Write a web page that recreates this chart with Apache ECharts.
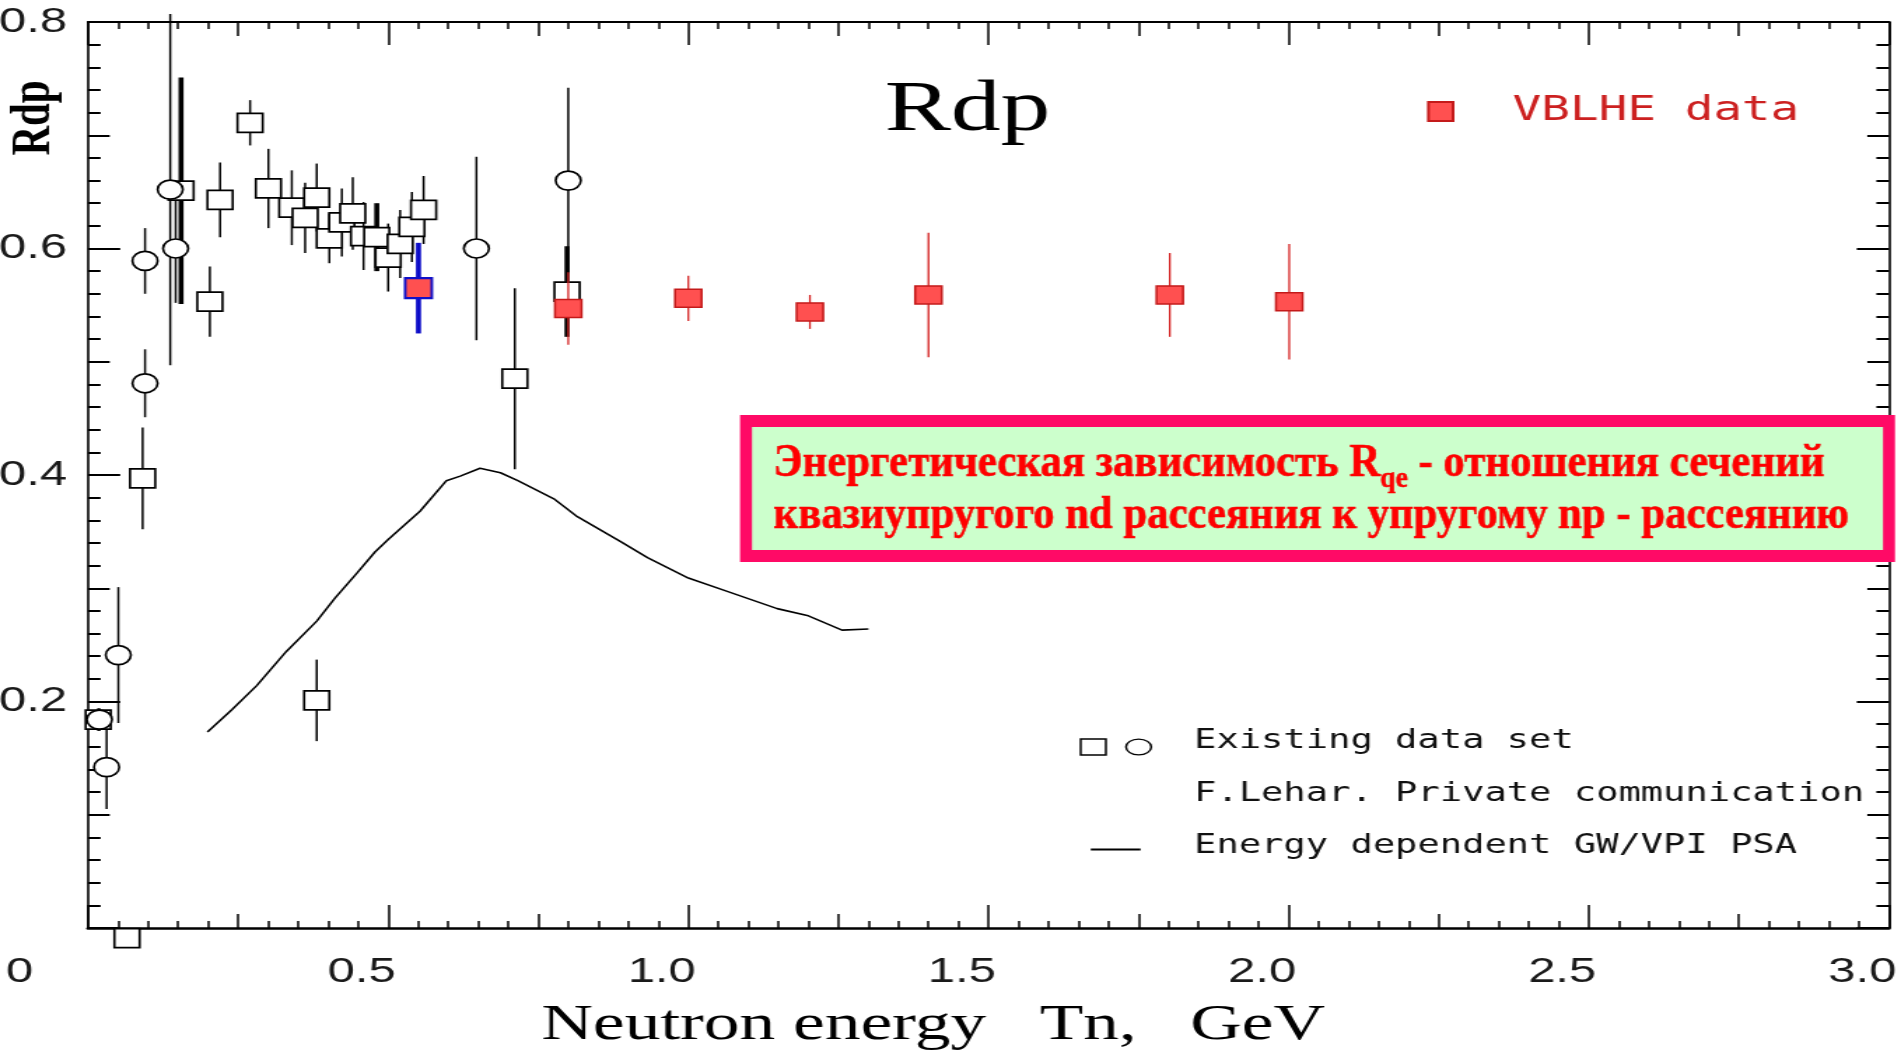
<!DOCTYPE html>
<html><head><meta charset="utf-8">
<script src="https://cdn.jsdelivr.net/npm/echarts@6/dist/echarts.min.js"></script>
<style>
html,body{margin:0;padding:0;background:#fff;overflow:hidden;width:1901px;height:1050px;}
#wrap{position:absolute;left:0;top:0;width:1358px;height:1050px;transform:scaleX(1.399853);transform-origin:0 0;}
</style></head><body><div id="wrap"></div>
<script>
// ---------- data ----------
const squareX   = [0.017, 0.091, 0.065, 0.155, 0.203, 0.220, 0.270, 0.3005, 0.3395, 0.3617, 0.381, 0.402, 0.4228, 0.441, 0.459, 0.481, 0.500, 0.520, 0.5395, 0.559, 0.381, 0.711, 0.798];
const squareY   = [0.184, 0.397, -0.009, 0.651, 0.553, 0.643, 0.711, 0.653, 0.636, 0.627, 0.645, 0.609, 0.623, 0.631, 0.611, 0.610, 0.592, 0.604, 0.619, 0.634, 0.201, 0.485, 0.562];
const squareErr = [0.010, 0.045, 0, 0.100, 0.031, 0.033, 0.020, 0.035, 0.033, 0.031, 0.030, 0.022, 0.030, 0.032, 0.030, 0.030, 0.030, 0.030, 0.031, 0.030, 0.036, 0.080, 0.040];

const circleX   = [0.019, 0.031, 0.0505, 0.095, 0.095, 0.137, 0.146, 0.647, 0.800];
const circleY   = [0.184, 0.142, 0.241, 0.589, 0.481, 0.652, 0.600, 0.600, 0.660];
const circleErr = [0.010, 0.037, 0.060, 0.029, 0.030, 0.155, 0.048, 0.081, 0.082];

const vblheX   = [0.800, 1.000, 1.2025, 1.400, 1.802, 2.001];
const vblheY   = [0.547, 0.556, 0.544, 0.559, 0.559, 0.553];
const vblheErr = [0.032, 0.020, 0.015, 0.055, 0.037, 0.051];

const blueX   = [0.5505];
const blueY   = [0.565];
const blueErr = [0.040];

const psaX = [0.199, 0.240, 0.281, 0.330, 0.381, 0.411, 0.449, 0.478, 0.500, 0.553, 0.597, 0.620, 0.653, 0.687, 0.716, 0.776, 0.813, 0.888, 0.932, 1.000, 1.066, 1.148, 1.198, 1.256, 1.300];
const psaY = [0.173, 0.193, 0.214, 0.244, 0.271, 0.291, 0.314, 0.332, 0.343, 0.368, 0.395, 0.399, 0.406, 0.402, 0.395, 0.379, 0.364, 0.341, 0.327, 0.309, 0.297, 0.282, 0.276, 0.263, 0.264];

const xTicks = [0, 0.5, 1.0, 1.5, 2.0, 2.5, 3.0];
const yTicks = [0.2, 0.4, 0.6, 0.8];

const titleText = 'Rdp';
const yName = 'Rdp';
const xName = 'Neutron energy   Tn,   GeV';
const legendTexts = ['Existing data set', 'F.Lehar. Private communication', 'Energy dependent GW/VPI PSA'];
const box1a = 'Энергетическая зависимость R', box1b = 'qe', box1c = ' - отношения сечений';
const box2 = 'квазиупругого nd рассеяния к упругому np - рассеянию';

// ---------- styles / layout ----------
const S = 1901 / 1358;              // horizontal stretch of the original picture
const THICK_SQUARE_BARS = [3, 15, 22];
const monoFont = '"DejaVu Sans Mono"';
const tickFont = '"Liberation Sans"';
const serif = '"Liberation Serif"';

const ctx = document.createElement('canvas').getContext('2d');
function tw(t, f) { ctx.font = f; return ctx.measureText(t).width; }
const mainFont = 'bold 47px ' + serif, subFont = 'bold 30px ' + serif;
const wa = tw(box1a, mainFont), wb = tw(box1b, subFont), wc = tw(box1c, mainFont), w2 = tw(box2, mainFont);
const s1 = (1051 / S) / (wa + wb + wc), s2 = (1075.5 / S) / w2;
const boxShadow = { textShadowColor: '#1a0000', textShadowOffsetX: 1.6, textShadowOffsetY: 2, textShadowBlur: 0, stroke: '#ee0000', lineWidth: 0.6 };

function errBars(xs, ys, es, color, width, thick, thickWidth, z) {
  return {
    type: 'custom', xAxisIndex: 0, yAxisIndex: 0, z: z, silent: true, clip: false,
    data: xs.map((x, i) => [x, ys[i], es[i], i]),
    encode: { x: 0, y: 1 },
    renderItem: function (params, api) {
      const x = api.value(0), y = api.value(1), e = api.value(2), i = api.value(3);
      if (!e) return null;
      const lo = api.coord([x, y - e]), hi = api.coord([x, y + e]);
      return { type: 'line', shape: { x1: lo[0], y1: lo[1], x2: hi[0], y2: hi[1] },
        style: { stroke: color, lineWidth: thick.indexOf(i) >= 0 ? thickWidth : width } };
    }
  };
}

function xAxisDef(pos, interval, tickLen, main) {
  return {
    type: 'value', min: 0, max: 3, interval: interval, position: pos, gridIndex: 0,
    axisLine: { show: main, onZero: false, lineStyle: { color: '#000', width: pos === 'bottom' ? 2.6 : 2 } },
    axisTick: { show: true, inside: true, length: tickLen, lineStyle: { color: '#000', width: 1.5 } },
    minorTick: { show: main, splitNumber: 10, length: 7, lineStyle: { color: '#000', width: 1.5 } },
    splitLine: { show: false }, minorSplitLine: { show: false },
    axisLabel: { show: false }
  };
}
function yAxisDef(pos, interval, tickLen, main) {
  return {
    type: 'value', min: 0, max: 0.8, interval: interval, position: pos, gridIndex: 0,
    axisLine: { show: main, onZero: false, lineStyle: { color: '#000', width: 1.6 } },
    axisTick: { show: true, inside: true, length: tickLen, lineStyle: { color: '#000', width: 2 } },
    minorTick: { show: main, splitNumber: 10, length: 9, lineStyle: { color: '#000', width: 2 } },
    splitLine: { show: false }, minorSplitLine: { show: false },
    axisLabel: { show: false }
  };
}

const xMain = xAxisDef('bottom', 0.5, 23, true);
xMain.axisLabel = {
  show: true, margin: 27, showMinLabel: true, showMaxLabel: true,
  formatter: v => (xTicks.indexOf(v) < 0 ? '' : (v === 0 ? '{z|0}' : '{n|' + v.toFixed(1) + '}')),
  rich: {
    z: { fontFamily: tickFont, fontSize: 35, color: '#1a1a1a', padding: [0, 98, 0, 0] },
    n: { fontFamily: tickFont, fontSize: 35, color: '#1a1a1a', padding: [0, 38, 0, 0] }
  }
};
xMain.name = xName;
xMain.nameLocation = 'middle';
xMain.nameGap = 72;
xMain.nameTextStyle = { fontFamily: serif, fontSize: 51, color: '#000', padding: [0, 79, 0, 0] };

const yMain = yAxisDef('left', 0.2, 23, true);
yMain.axisLabel = {
  show: true, margin: 15, showMinLabel: true, showMaxLabel: true,
  formatter: v => (yTicks.some(t => Math.abs(t - v) < 1e-9) ? v.toFixed(1) : ''),
  fontFamily: tickFont, fontSize: 35, color: '#1a1a1a'
};

const chart = echarts.init(document.getElementById('wrap'));

chart.setOption({
  animation: false,
  grid: { left: 62.86, right: 8.6, top: 22, bottom: 122, containLabel: false, outerBoundsMode: 'none' },
  xAxis: [xMain, xAxisDef('bottom', 0.25, 14, false), xAxisDef('top', 0.5, 23, true), xAxisDef('top', 0.25, 14, false)],
  yAxis: [yMain, yAxisDef('left', 0.1, 15.5, false), yAxisDef('right', 0.2, 23, true), yAxisDef('right', 0.1, 15.5, false)],
  legend: {
    data: ['VBLHE data'], left: 1019.4, top: 94.5, padding: 0, selectedMode: false,
    itemWidth: 17.6, itemHeight: 19,
    textStyle: { fontFamily: monoFont, fontSize: 34, color: '#cc2020', padding: [0, 0, 0, 37.6] }
  },
  series: [
    {
      type: 'line', name: 'Energy dependent GW/VPI PSA', xAxisIndex: 0, yAxisIndex: 0, z: 1,
      data: psaX.map((x, i) => [x, psaY[i]]), showSymbol: false, symbol: 'none',
      lineStyle: { color: '#000', width: 1.6 }, silent: true
    },
    errBars(squareX, squareY, squareErr, '#000', 1.5, THICK_SQUARE_BARS, 3.6, 2),
    errBars(circleX, circleY, circleErr, '#000', 1.5, [], 1.5, 2),
    {
      type: 'scatter', name: 'Existing data set', xAxisIndex: 0, yAxisIndex: 0, z: 3, clip: false,
      data: squareX.map((x, i) => [x, squareY[i]]), symbol: 'rect', symbolSize: [18, 19],
      itemStyle: { color: '#fff', borderColor: '#000', borderWidth: 1.7, opacity: 1 }
    },
    {
      type: 'scatter', name: 'Existing data set (circles)', xAxisIndex: 0, yAxisIndex: 0, z: 3, clip: false,
      data: circleX.map((x, i) => [x, circleY[i]]), symbol: 'circle', symbolSize: [18, 19],
      itemStyle: { color: '#fff', borderColor: '#000', borderWidth: 1.7, opacity: 1 }
    },
    errBars(vblheX, vblheY, vblheErr, '#d42222', 1.3, [], 1.3, 4),
    errBars(blueX, blueY, blueErr, '#0a0ac8', 3.6, [], 3.6, 4),
    {
      type: 'scatter', name: 'VBLHE data', xAxisIndex: 0, yAxisIndex: 0, z: 5, clip: false,
      data: vblheX.map((x, i) => [x, vblheY[i]]), symbol: 'rect', symbolSize: [19, 18],
      itemStyle: { color: '#ff5050', borderColor: '#c41a1a', borderWidth: 1.5, opacity: 1 }
    },
    {
      type: 'scatter', name: 'VBLHE (blue)', xAxisIndex: 0, yAxisIndex: 0, z: 5, clip: false,
      data: blueX.map((x, i) => [x, blueY[i]]), symbol: 'rect', symbolSize: [19, 20],
      itemStyle: { color: '#ff5050', borderColor: '#1010c8', borderWidth: 2, opacity: 1 }
    }
  ],
  graphic: [
    { type: 'text', x: 691.1, y: 111, z: 10, style: { text: titleText, font: '71px ' + serif, fill: '#000', align: 'center', verticalAlign: 'middle' } },
    { type: 'text', x: 24.5, y: 118, rotation: Math.PI / 2, z: 10, style: { text: yName, font: 'bold 41px ' + serif, fill: '#000', align: 'center', verticalAlign: 'middle' } },
    { type: 'rect', z: 10, shape: { x: 772, y: 739, width: 18, height: 16 }, style: { fill: '#fff', stroke: '#000', lineWidth: 1.5 } },
    { type: 'circle', z: 10, x: 813.4, y: 747, scaleY: 0.88, shape: { cx: 0, cy: 0, r: 9 }, style: { fill: '#fff', stroke: '#000', lineWidth: 1.5 } },
    { type: 'line', z: 10, shape: { x1: 779.2, y1: 849.6, x2: 814.8, y2: 849.6 }, style: { stroke: '#000', lineWidth: 2 } },
    { type: 'text', z: 10, x: 853, y: 741, style: { text: legendTexts[0], font: '26.5px ' + monoFont, fill: '#111', align: 'left', verticalAlign: 'middle' } },
    { type: 'text', z: 10, x: 853, y: 794.5, style: { text: legendTexts[1], font: '26.5px ' + monoFont, fill: '#111', align: 'left', verticalAlign: 'middle' } },
    { type: 'text', z: 10, x: 853, y: 846.5, style: { text: legendTexts[2], font: '26.5px ' + monoFont, fill: '#111', align: 'left', verticalAlign: 'middle' } },
    { type: 'rect', z: 20, shape: { x: 740 / S, y: 415, width: (1895 - 740) / S, height: 147 }, style: { fill: '#ff0a66' } },
    { type: 'rect', z: 21, shape: { x: 752 / S, y: 427, width: (1883 - 752) / S, height: 123 }, style: { fill: '#ccffcc' } },
    {
      type: 'group', z: 22, x: 773.5 / S, y: 0, scaleX: s1,
      children: [
        { type: 'text', z: 22, x: 0, y: 464.1, style: Object.assign({ text: box1a, font: mainFont, fill: '#ff0000', align: 'left', verticalAlign: 'middle' }, boxShadow) },
        { type: 'text', z: 22, x: wa, y: 478.9, style: Object.assign({ text: box1b, font: subFont, fill: '#ff0000', align: 'left', verticalAlign: 'middle' }, boxShadow) },
        { type: 'text', z: 22, x: wa + wb, y: 464.1, style: Object.assign({ text: box1c, font: mainFont, fill: '#ff0000', align: 'left', verticalAlign: 'middle' }, boxShadow) }
      ]
    },
    {
      type: 'group', z: 22, x: 773.5 / S, y: 0, scaleX: s2,
      children: [
        { type: 'text', z: 22, x: 0, y: 516.1, style: Object.assign({ text: box2, font: mainFont, fill: '#ff0000', align: 'left', verticalAlign: 'middle' }, boxShadow) }
      ]
    }
  ]
});
</script>
</body></html>
